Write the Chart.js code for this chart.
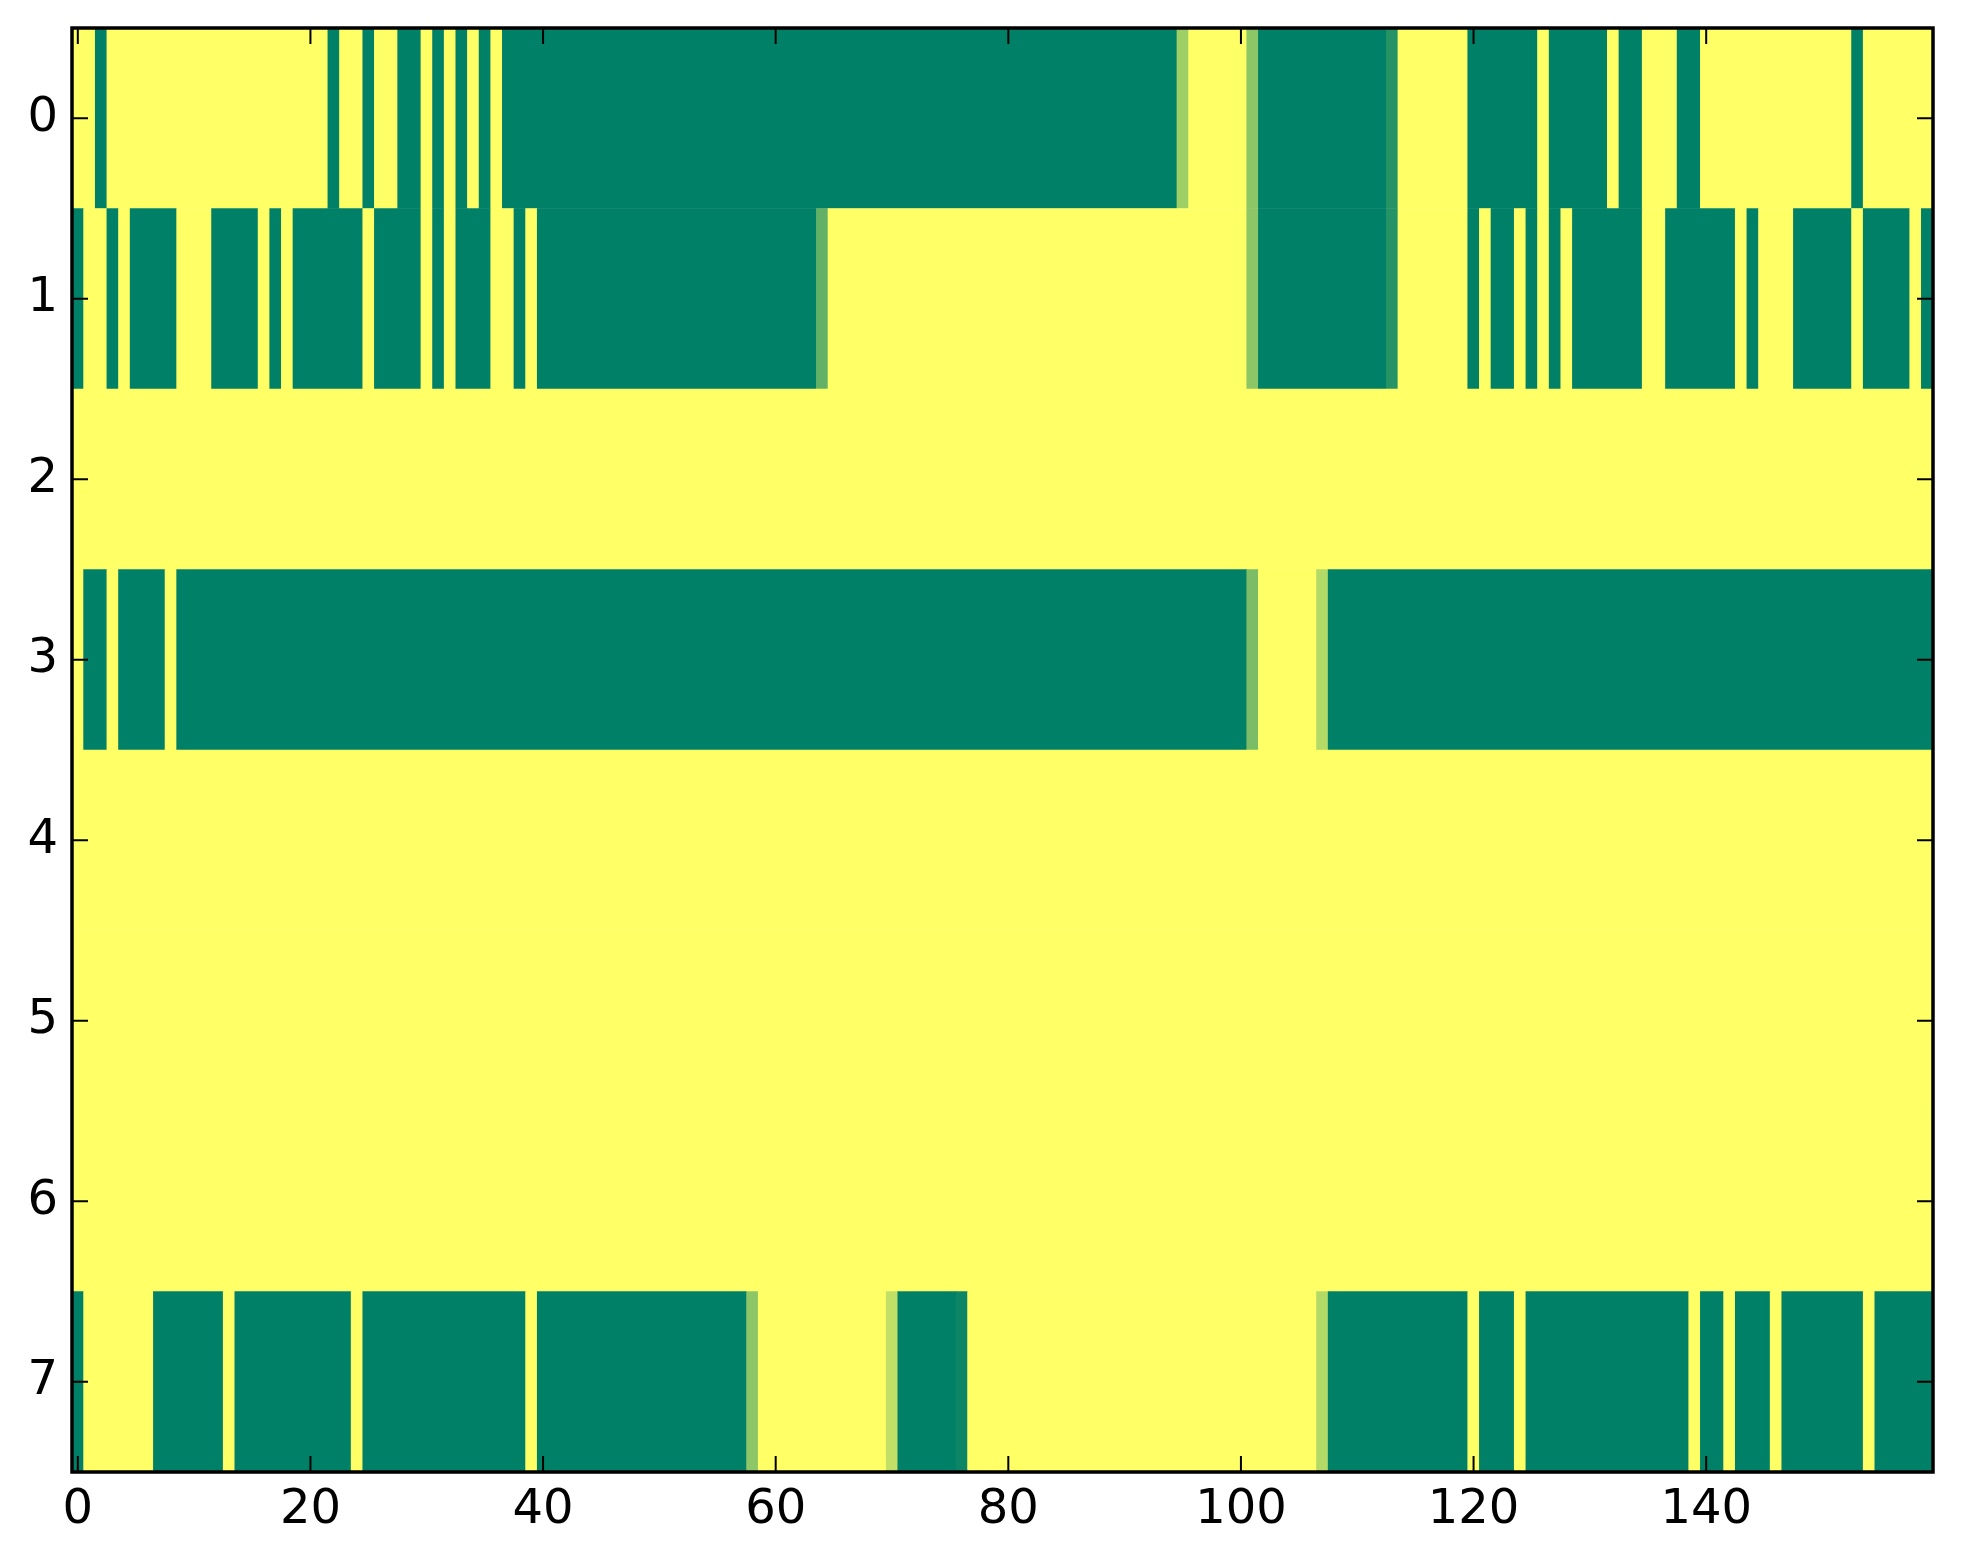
<!DOCTYPE html>
<html><head><meta charset="utf-8">
<script src="https://cdn.jsdelivr.net/npm/chart.js@4"></script>
<style>html,body{margin:0;padding:0;background:#fff}</style>
</head><body>
<canvas id="c" width="1963" height="1564"></canvas>
<script>
// Row labels (y axis, top to bottom) and x tick labels
const rowLabels = ['0','1','2','3','4','5','6','7'];
const xTicks = [0,20,40,60,80,100,120,140];

// Each row: segments [firstColumn, lastColumn, value]; value 0 = green, 1 = yellow (summer colormap)
const row0 = [[0,1,1],[2,2,0],[3,21,1],[22,22,0],[23,24,1],[25,25,0],[26,27,1],[28,29,0],[30,30,1],[31,31,0],[32,32,1],[33,33,0],[34,34,1],[35,35,0],[36,36,1],[37,94,0],[95,95,0.62],[96,100,1],[101,101,0.55],[102,112,0],[113,113,0.15],[114,119,1],[120,125,0],[126,126,1],[127,131,0],[132,132,1],[133,134,0],[135,137,1],[138,139,0],[140,152,1],[153,153,0],[154,159,1]];
const row1 = [[0,0,0],[1,2,1],[3,3,0],[4,4,1],[5,8,0],[9,11,1],[12,15,0],[16,16,1],[17,17,0],[18,18,1],[19,24,0],[25,25,1],[26,29,0],[30,30,1],[31,31,0],[32,32,1],[33,35,0],[36,37,1],[38,38,0],[39,39,1],[40,63,0],[64,64,0.39],[65,100,1],[101,101,0.55],[102,112,0],[113,113,0.15],[114,119,1],[120,120,0],[121,121,1],[122,123,0],[124,124,1],[125,125,0],[126,126,1],[127,127,0],[128,128,1],[129,134,0],[135,136,1],[137,142,0],[143,143,1],[144,144,0],[145,147,1],[148,152,0],[153,153,1],[154,157,0],[158,158,1],[159,159,0]];
const row2 = [[0,159,1]];
const row3 = [[0,0,1],[1,2,0],[3,3,1],[4,7,0],[8,8,1],[9,100,0],[101,101,0.48],[102,106,1],[107,107,0.70],[108,159,0]];
const row4 = [[0,159,1]];
const row5 = [[0,159,1]];
const row6 = [[0,159,1]];
const row7 = [[0,0,0],[1,6,1],[7,12,0],[13,13,1],[14,23,0],[24,24,1],[25,38,0],[39,39,1],[40,57,0],[58,58,0.55],[59,69,1],[70,70,0.76],[71,75,0],[76,76,0.05],[77,106,1],[107,107,0.70],[108,119,0],[120,120,1],[121,123,0],[124,124,1],[125,138,0],[139,139,1],[140,141,0],[142,142,1],[143,145,0],[146,146,1],[147,153,0],[154,154,1],[155,159,0]];
const rows = [row0,row1,row2,row3,row4,row5,row6,row7];

const cells = [];
rows.forEach((segs, r) => segs.forEach(([a, b, v]) => cells.push({x: [a - 0.5, b + 0.5], y: rowLabels[r], v})));

function summer(v) {
  return 'rgb(' + Math.round(255 * v) + ',' + Math.round(127.5 + 127.5 * v) + ',102)';
}

const frame = {
  id: 'frame',
  afterDatasetsDraw(chart) {
    const {ctx, chartArea: {left, right, top, bottom}, scales: {x, y}} = chart;
    ctx.save();
    ctx.strokeStyle = '#000';
    ctx.lineWidth = 2;
    const L = 16;
    ctx.beginPath();
    xTicks.forEach(v => {
      const px = x.getPixelForValue(v);
      ctx.moveTo(px, bottom); ctx.lineTo(px, bottom - L);
      ctx.moveTo(px, top); ctx.lineTo(px, top + L);
    });
    rowLabels.forEach((l, i) => {
      const py = y.getPixelForValue(i);
      ctx.moveTo(left, py); ctx.lineTo(left + L, py);
      ctx.moveTo(right, py); ctx.lineTo(right - L, py);
    });
    ctx.stroke();
    ctx.lineWidth = 3.5;
    ctx.strokeRect(left, top, right - left, bottom - top);
    ctx.restore();
  }
};

new Chart(document.getElementById('c'), {
  type: 'bar',
  data: {
    labels: rowLabels,
    datasets: [{
      data: cells,
      backgroundColor: c => (c.raw ? summer(c.raw.v) : '#000'),
      borderWidth: 0,
      categoryPercentage: 1,
      barPercentage: 1
    }]
  },
  options: {
    indexAxis: 'y',
    responsive: false,
    devicePixelRatio: 1,
    animation: false,
    layout: {padding: {top: 28, right: 30, left: 0, bottom: 0}},
    plugins: {legend: {display: false}, tooltip: {enabled: false}},
    scales: {
      x: {
        type: 'linear', min: -0.5, max: 159.5,
        afterBuildTicks: s => { s.ticks = xTicks.map(v => ({value: v})); },
        grid: {display: false, drawTicks: false},
        border: {display: false},
        ticks: {font: {family: 'DejaVu Sans', size: 48}, color: '#000', padding: 10, maxRotation: 0, autoSkip: false},
        afterFit: s => { s.height = 92; s.paddingLeft = 0; s.paddingRight = 0; }
      },
      y: {
        type: 'category', offset: true,
        grid: {display: false, drawTicks: false},
        border: {display: false},
        ticks: {font: {family: 'DejaVu Sans', size: 48}, color: '#000', padding: 14},
        afterFit: s => { s.width = 72; s.paddingTop = 0; s.paddingBottom = 0; }
      }
    }
  },
  plugins: [frame]
});
</script>
</body></html>
